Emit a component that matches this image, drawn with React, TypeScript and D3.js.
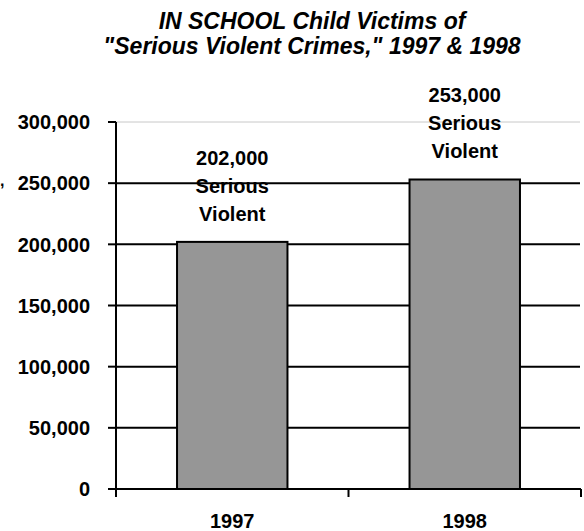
import React from "react";
import * as d3 from "d3";

const categories = ["1997", "1998"];
const values = [202000, 253000];
const labelLines = [["202,000", "Serious", "Violent"], ["253,000", "Serious", "Violent"]];
const yTicks = [0, 50000, 100000, 150000, 200000, 250000, 300000];
const titleLines = ["IN SCHOOL Child Victims of", "\"Serious Violent Crimes,\" 1997 & 1998"];

const W = 584;
const H = 531;
const left = 116;
const right = 581;
const top = 122;
const bottom = 489;
const font = "'Liberation Sans', Arial, sans-serif";

export default function App() {
  const x = d3.scaleBand<string>().domain(categories).range([left, right]).padding(0);
  const y = d3.scaleLinear().domain([0, 300000]).range([bottom, top]);
  const barW = x.bandwidth() * 0.475;
  const fmt = d3.format(",");

  return (
    <svg width={W} height={H} style={{ position: "absolute", left: 0, top: 0, background: "#fff" }}>
      <rect x={0} y={0} width={W} height={H} fill="#fff" />
      {/* title */}
      {titleLines.map((t, i) => (
        <text key={i} x={312} y={29 + i * 25} textAnchor="middle" fontFamily={font} fontWeight="bold" fontStyle="italic" fontSize={23} fill="#000">
          {t}
        </text>
      ))}
      {/* stray clipped glyph at left */}
      <text x={0} y={186} fontFamily={font} fontWeight="bold" fontSize={16} fill="#000">,</text>
      {/* gridlines */}
      {yTicks.filter((t) => t > 0).map((t) => (
        <line key={t} x1={left} x2={right - 1} y1={y(t)} y2={y(t)}
          stroke={t === 300000 ? "#c8c8c8" : "#000"} strokeWidth={t === 300000 ? 1 : 2} />
      ))}
      {/* bars */}
      {categories.map((c, i) => (
        <rect key={c} x={(x(c) as number) + x.bandwidth() / 2 - barW / 2} y={y(values[i])}
          width={barW} height={bottom - y(values[i])} fill="#969696" stroke="#000" strokeWidth={2} />
      ))}
      {/* axes */}
      <line x1={left} x2={left} y1={top} y2={bottom + 8} stroke="#000" strokeWidth={2} />
      <line x1={left - 8} x2={right} y1={bottom} y2={bottom} stroke="#000" strokeWidth={2} />
      {yTicks.map((t) => (
        <g key={t}>
          <line x1={left - 8} x2={left} y1={y(t)} y2={y(t)} stroke="#000" strokeWidth={2} />
          <text x={90} y={y(t)} dy="0.36em" textAnchor="end" fontFamily={font} fontWeight="bold" fontSize={20} fill="#000">
            {fmt(t)}
          </text>
        </g>
      ))}
      {[...categories.map((c) => x(c) as number), right].map((px, i) => (
        <line key={i} x1={px} x2={px} y1={bottom} y2={bottom + 8} stroke="#000" strokeWidth={2} />
      ))}
      {categories.map((c) => (
        <text key={c} x={(x(c) as number) + x.bandwidth() / 2} y={528} textAnchor="middle" fontFamily={font} fontWeight="bold" fontSize={20} fill="#000">
          {c}
        </text>
      ))}
      {/* data labels */}
      {categories.map((c, i) => (
        <g key={c}>
          {labelLines[i].map((l, j) => (
            <text key={j} x={(x(c) as number) + x.bandwidth() / 2} y={y(values[i]) - 21 - (2 - j) * 28}
              textAnchor="middle" fontFamily={font} fontWeight="bold" fontSize={20} fill="#000">
              {l}
            </text>
          ))}
        </g>
      ))}
    </svg>
  );
}
